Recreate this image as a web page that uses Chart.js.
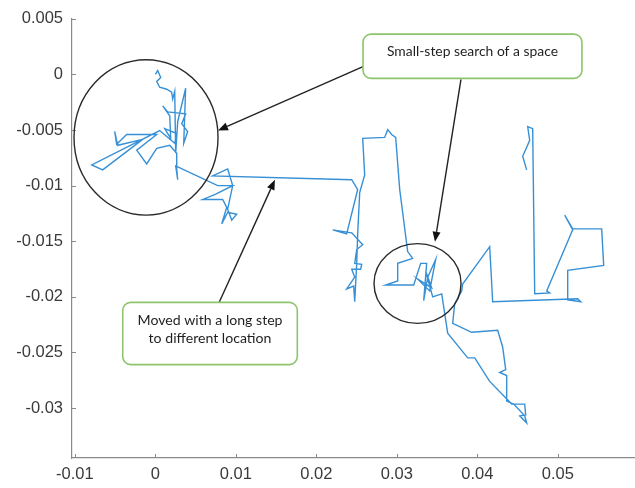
<!DOCTYPE html>
<html>
<head>
<meta charset="utf-8">
<script src="https://cdn.jsdelivr.net/npm/chart.js@4/dist/chart.umd.min.js"></script>
<style>
  html, body { margin: 0; padding: 0; background: #ffffff; }
  #wrap { width: 635px; height: 488px; }
</style>
</head>
<body>
<div id="wrap"><canvas id="walk" width="635" height="488"></canvas></div>
<script>
// Random-walk trajectory (x, y), in visiting order
const walkX = [
  0, 0.00029, 0.00066, 0.00016, 0.00053, 0.0014, 0.00202, 0.00215, 0.0024, 0.00252,
  0.00277, 0.00376, 0.00352, 0.00401, 0.00327, 0.00376, 0.00153, 0.00091, 0.00178, 0.0019,
  0.00116, 0.00265, 0.0024, 0.00053, -0.00791, -0.00655, -0.00158, -0.00468, -0.00506, -0.00481,
  -0.00357, 0.00016, -0.00232, -0.00108, 0.00016, 0.00178, 0.00265, 0.00265, 0.00277, 0.00252,
  0.00774, 0.0096, 0.00737, 0.00588, 0.00836, 0.00886, 0.00824, 0.00898, 0.0101, 0.00948,
  0.00898, 0.0096, 0.00898, 0.00712, 0.02439, 0.02513, 0.02376, 0.02203, 0.02439, 0.02575,
  0.02501, 0.02476, 0.02563, 0.0255, 0.02439, 0.02476, 0.02376, 0.02463, 0.02476, 0.02501,
  0.02513, 0.02538, 0.026, 0.02575, 0.02848, 0.02886, 0.02935, 0.02985, 0.03035, 0.03134,
  0.03196, 0.0301, 0.0301, 0.02861, 0.03209, 0.03296, 0.0337, 0.03333, 0.03383, 0.03482,
  0.03407, 0.03258, 0.03432, 0.03358, 0.03445, 0.03557, 0.03631, 0.0388, 0.03967, 0.04153,
  0.04426, 0.04588, 0.046, 0.04526, 0.04612, 0.04588, 0.04451, 0.04364, 0.04364, 0.04277,
  0.04352, 0.04314, 0.04252, 0.03929, 0.03693, 0.03718, 0.03805, 0.03817, 0.04153, 0.0419,
  0.05246, 0.05283, 0.05122, 0.05122, 0.05569, 0.05544, 0.05184, 0.05085, 0.05184, 0.04861,
  0.04898, 0.04712, 0.04687, 0.04625, 0.0465, 0.04563, 0.04612
];
const walkY = [
  0, 0.00035, -0.00027, -0.00062, -0.00115, -0.00133, -0.00159, -0.00221, -0.0015, -0.00708,
  -0.00425, -0.00124, -0.00619, -0.00513, -0.00442, -0.00354, -0.00336, -0.00283, -0.00372, -0.00575,
  -0.00487, -0.00531, -0.00619, -0.00504, -0.00814, -0.00858, -0.00584, -0.00637, -0.00513, -0.00628,
  -0.0054, -0.0054, -0.00681, -0.00805, -0.00664, -0.00637, -0.00708, -0.0085, -0.00947, -0.00823,
  -0.01, -0.01, -0.0108, -0.01124, -0.01124, -0.01195, -0.01345, -0.01239, -0.01257, -0.0131,
  -0.01212, -0.01, -0.0085, -0.00912, -0.00947, -0.01035, -0.01434, -0.01398, -0.01425, -0.01531,
  -0.01575, -0.01699, -0.01708, -0.01752, -0.01752, -0.01823, -0.01929, -0.01903, -0.02044, -0.01699,
  -0.01434, -0.01062, -0.00903, -0.00575, -0.00566, -0.00496, -0.0054, -0.00566, -0.01035, -0.01593,
  -0.01655, -0.01699, -0.01858, -0.01894, -0.01894, -0.01699, -0.01699, -0.02035, -0.01823, -0.01664,
  -0.01947, -0.01841, -0.0192, -0.0177, -0.02, -0.01973, -0.02327, -0.02549, -0.02549, -0.02761,
  -0.02965, -0.02965, -0.03062, -0.03071, -0.03133, -0.03071, -0.02965, -0.02938, -0.02708, -0.02681,
  -0.02655, -0.02451, -0.02301, -0.02319, -0.02239, -0.02062, -0.01947, -0.01885, -0.01549, -0.02044,
  -0.02018, -0.02044, -0.02027, -0.01761, -0.01717, -0.01389, -0.01389, -0.01265, -0.01398, -0.01947,
  -0.01965, -0.01973, -0.00487, -0.00469, -0.00593, -0.00735, -0.00858
];

// Axis ticks
const xTickValues = [-0.01, 0, 0.01, 0.02, 0.03, 0.04, 0.05];
const xTickLabels = ['-0.01', '0', '0.01', '0.02', '0.03', '0.04', '0.05'];
const yTickValues = [0.005, 0, -0.005, -0.01, -0.015, -0.02, -0.025, -0.03];
const yTickLabels = ['0.005', '0', '-0.005', '-0.01', '-0.015', '-0.02', '-0.025', '-0.03'];

// Callout texts
const searchCallout = ['Small-step search of a space'];
const jumpCallout = ['Moved with a long step', 'to different location'];

const AXIS_GREY = '#8a8a8a';
const LABEL_GREY = '#3a3a3a';

// Notes layered over the plot, placed in data coordinates
const notes = {
  ellipses: [
    { x0: -0.01011, x1: 0.00778, y0: 0.00133, y1: -0.01265 },
    { x0: 0.02716, x1: 0.03797, y0: -0.01522, y1: -0.02239 }
  ],
  arrows: [
    { from: [0.02579, 0.00071], to: [0.00778, -0.00504] },
    { from: [0.03796, -0.00044], to: [0.03473, -0.01504] },
    { from: [0.0079, -0.02053], to: [0.01485, -0.00947] }
  ],
  boxes: [
    { x0: 0.02579, x1: 0.05299, y0: 0.00363, y1: -0.00035, lines: searchCallout, firstLine: 0.00204, lineGap: 0, fitWidth: 171 },
    { x0: -0.00406, x1: 0.01763, y0: -0.0205, y1: -0.0261, lines: jumpCallout, firstLine: -0.02212, lineGap: 0.0016, fitWidth: 145 }
  ]
};

const innerTicks = {
  id: 'innerTicks',
  afterDraw(chart) {
    const { ctx, scales: { x, y }, chartArea: a } = chart;
    ctx.save();
    ctx.strokeStyle = AXIS_GREY;
    ctx.lineWidth = 1;
    xTickValues.forEach(v => {
      const px = Math.round(x.getPixelForValue(v)) + 0.5;
      ctx.beginPath(); ctx.moveTo(px, a.bottom); ctx.lineTo(px, a.bottom - 4); ctx.stroke();
    });
    yTickValues.forEach(v => {
      const py = Math.round(y.getPixelForValue(v)) + 0.5;
      ctx.beginPath(); ctx.moveTo(a.left, py); ctx.lineTo(a.left + 4, py); ctx.stroke();
    });
    ctx.restore();
  }
};

function roundRect(ctx, x, y, w, h, r) {
  ctx.beginPath();
  ctx.moveTo(x + r, y);
  ctx.lineTo(x + w - r, y);
  ctx.arcTo(x + w, y, x + w, y + r, r);
  ctx.lineTo(x + w, y + h - r);
  ctx.arcTo(x + w, y + h, x + w - r, y + h, r);
  ctx.lineTo(x + r, y + h);
  ctx.arcTo(x, y + h, x, y + h - r, r);
  ctx.lineTo(x, y + r);
  ctx.arcTo(x, y, x + r, y, r);
  ctx.closePath();
}

const callouts = {
  id: 'callouts',
  afterDraw(chart) {
    const { ctx, scales: { x, y } } = chart;
    const X = v => x.getPixelForValue(v);
    const Y = v => y.getPixelForValue(v);
    ctx.save();

    // ellipses
    ctx.strokeStyle = '#2a2a2a';
    ctx.lineWidth = 1.4;
    notes.ellipses.forEach(e => {
      const l = X(e.x0), r = X(e.x1), t = Y(e.y0), b = Y(e.y1);
      ctx.beginPath();
      ctx.ellipse((l + r) / 2, (t + b) / 2, (r - l) / 2, (b - t) / 2, 0, 0, Math.PI * 2);
      ctx.stroke();
    });

    // arrows
    notes.arrows.forEach(ar => {
      const x1 = X(ar.from[0]), y1 = Y(ar.from[1]);
      const x2 = X(ar.to[0]), y2 = Y(ar.to[1]);
      const ang = Math.atan2(y2 - y1, x2 - x1);
      const len = 10, half = 4;
      const bx = x2 - len * Math.cos(ang), by = y2 - len * Math.sin(ang);
      ctx.strokeStyle = '#222';
      ctx.fillStyle = '#111';
      ctx.lineWidth = 1.4;
      ctx.beginPath(); ctx.moveTo(x1, y1); ctx.lineTo(bx, by); ctx.stroke();
      ctx.beginPath();
      ctx.moveTo(x2, y2);
      ctx.lineTo(bx + half * Math.sin(ang), by - half * Math.cos(ang));
      ctx.lineTo(bx - half * Math.sin(ang), by + half * Math.cos(ang));
      ctx.closePath();
      ctx.fill();
    });

    // boxes with text
    notes.boxes.forEach(bx => {
      const l = X(bx.x0), r = X(bx.x1), t = Y(bx.y0), b = Y(bx.y1);
      roundRect(ctx, l, t, r - l, b - t, 8);
      ctx.fillStyle = '#ffffff';
      ctx.fill();
      ctx.strokeStyle = '#8dc46c';
      ctx.lineWidth = 1.6;
      ctx.stroke();

      ctx.font = '12px Lato';
      const w = ctx.measureText(bx.lines[0]).width;
      const size = 12 * bx.fitWidth / w;
      ctx.font = size.toFixed(2) + 'px Lato';
      ctx.fillStyle = '#1f1f1f';
      ctx.textAlign = 'center';
      ctx.textBaseline = 'middle';
      const cx = (l + r) / 2;
      bx.lines.forEach((line, i) => {
        ctx.fillText(line, cx, Y(bx.firstLine - i * bx.lineGap));
      });
    });
    ctx.restore();
  }
};

new Chart(document.getElementById('walk'), {
  type: 'scatter',
  data: {
    datasets: [{
      data: walkX.map((v, i) => ({ x: v, y: walkY[i] })),
      showLine: true,
      borderColor: '#3790d6',
      borderWidth: 1.4,
      pointRadius: 0,
      pointHoverRadius: 0,
      tension: 0,
      fill: false
    }]
  },
  options: {
    responsive: false,
    animation: false,
    devicePixelRatio: 1,
    layout: { padding: { top: 15, right: 0, bottom: 0, left: 0 } },
    plugins: { legend: { display: false }, tooltip: { enabled: false } },
    scales: {
      x: {
        type: 'linear',
        min: -0.01036,
        max: 0.05958,
        grid: { display: false, drawTicks: false },
        border: { display: true, color: AXIS_GREY, width: 1.2 },
        afterBuildTicks: s => { s.ticks = xTickValues.map(v => ({ value: v })); },
        afterFit: s => { s.height = 30; },
        ticks: {
          padding: 7,
          color: LABEL_GREY,
          font: { family: 'Liberation Sans', size: 16.5 },
          maxRotation: 0,
          callback: (v, i) => xTickLabels[i]
        }
      },
      y: {
        type: 'linear',
        min: -0.0345,
        max: 0.005,
        grid: { display: false, drawTicks: false },
        border: { display: true, color: AXIS_GREY, width: 1.2 },
        afterBuildTicks: s => { s.ticks = yTickValues.map(v => ({ value: v })); },
        afterFit: s => { s.width = 72; },
        ticks: {
          padding: 9,
          color: LABEL_GREY,
          font: { family: 'Liberation Sans', size: 16.5 },
          callback: (v, i) => yTickLabels[i]
        }
      }
    }
  },
  plugins: [innerTicks, callouts]
});
</script>
</body>
</html>
